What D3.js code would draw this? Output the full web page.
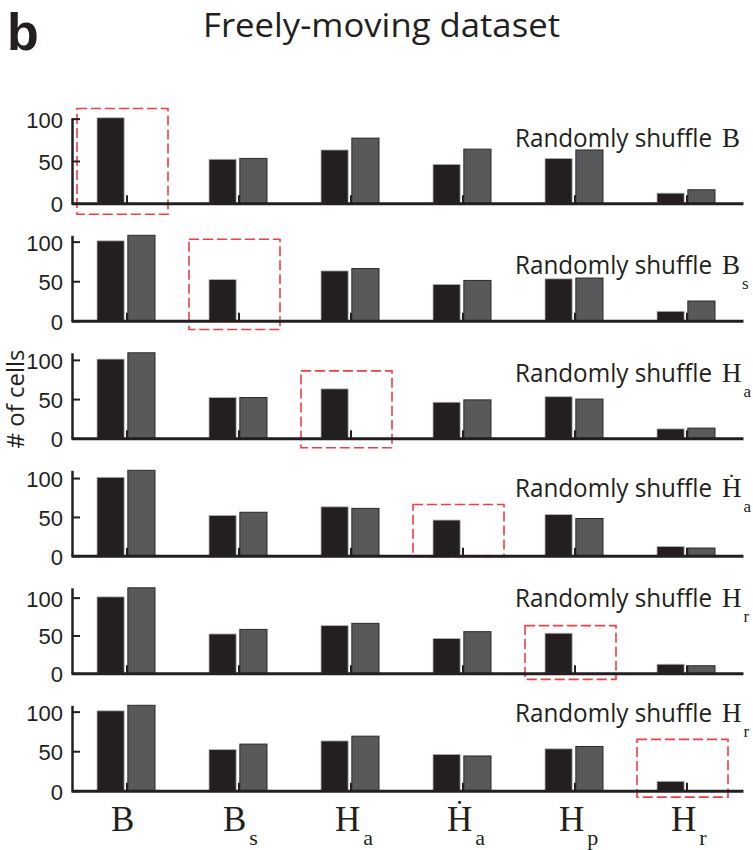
<!DOCTYPE html>
<html>
<head>
<meta charset="utf-8">
<script src="https://cdn.jsdelivr.net/npm/d3@7"></script>
<style>
  body { margin: 0; background: #fff; }
  svg { display: block; }
</style>
</head>
<body>
<div id="chart"></div>
<script>
// variables (x categories), one per bar group
var categories = ["B", "Bs", "Ha", "Ha_dot", "Hp", "Hr"];
var catMain = ["B", "B", "H", "H", "H", "H"];
var catSub = ["", "s", "a", "a", "p", "r"];
var catDot = [false, false, false, true, false, false];

// which variable got shuffled in each panel (panel label)
var panelMain = ["B", "B", "H", "H", "H", "H"];
var panelSub = ["", "s", "a", "a", "r", "r"];
var panelDot = [false, false, false, true, false, false];
var shuffledIndex = [0, 1, 2, 3, 4, 5];

// # of cells, full model (black bars) - same in every panel
var fullCounts = [101, 52, 63, 46, 53, 12];

// # of cells after shuffling (grey bars), null = the shuffled variable itself
var shuffleB   = [null, 53, 77, 64, 63, 16];
var shuffleBs  = [108, null, 66, 51, 54, 25];
var shuffleHa  = [109, 52, null, 49, 50, 13];
var shuffleHad = [110, 56, 61, null, 48, 10];
var shuffleHp  = [113, 58, 66, 55, null, 10];
var shuffleHr  = [108, 59, 69, 44, 56, null];
var shuffleCounts = [shuffleB, shuffleBs, shuffleHa, shuffleHad, shuffleHp, shuffleHr];

// dashed box extents, in # of cells (top, bottom)
var boxTop = [112, 103, 86, 66, 63, 65];
var boxBottom = [-13, -11, -12, -1, -8, -8];

var yTicks = [0, 50, 100];

var width = 753, height = 850;
var ink = "#231f20";
var sansFont = "'Open Sans', 'Noto Sans', sans-serif";
var serifFont = "'Liberation Serif', 'DejaVu Serif', serif";

var svg = d3.select("#chart").append("svg")
  .attr("width", width)
  .attr("height", height);

var x = d3.scaleBand().domain(categories).range([71, 743]).padding(0);
var xSub = d3.scaleBand().domain(["full", "shuffled"]).range([-30, 28]).paddingInner(0.12);

var panelBase0 = 203.3, panelStep = 117.5, panelHeight = 85.5;
var labelOffset = [56, 47, 56, 59, 66, 69];

// title + panel letter
svg.append("text")
  .attr("x", 7).attr("y", 50)
  .style("font-family", "'Liberation Sans', Arial, sans-serif")
  .style("font-weight", "bold")
  .style("font-size", "52px")
  .style("fill", ink)
  .text("b");

svg.append("text")
  .attr("x", 203).attr("y", 37)
  .attr("textLength", 357)
  .attr("lengthAdjust", "spacingAndGlyphs")
  .style("font-family", sansFont)
  .style("font-size", "33px")
  .style("fill", ink)
  .text("Freely-moving dataset");

// y label
svg.append("text")
  .attr("transform", "translate(24,399) rotate(-90)")
  .attr("text-anchor", "middle")
  .style("font-family", sansFont)
  .style("font-size", "24px")
  .style("fill", ink)
  .text("# of cells");

for (var p = 0; p < 6; p++) {
  drawPanel(p);
}

function drawPanel(p) {
  var base = panelBase0 + p * panelStep;
  var gray = shuffleCounts[p];
  var ymax = d3.max(fullCounts.concat(gray.filter(function(d){ return d !== null; })));
  var y = d3.scaleLinear().domain([0, ymax]).range([base, base - panelHeight]);

  var g = svg.append("g").attr("class", "panel");

  var rows = categories.map(function(c, i) {
    return {cat: c, full: fullCounts[i], shuffled: gray[i]};
  });

  // red dashed box round the shuffled variable
  var sc = categories[shuffledIndex[p]];
  var cx = x(sc) + x.bandwidth() / 2;
  g.append("rect")
    .attr("x", cx - 50)
    .attr("y", y(boxTop[p]))
    .attr("width", 91)
    .attr("height", y(boxBottom[p]) - y(boxTop[p]))
    .attr("fill", "none")
    .attr("stroke", "#ef3e46")
    .attr("stroke-width", 1.6)
    .attr("stroke-dasharray", "10,4");

  var grp = g.selectAll("g.grp")
    .data(rows)
    .enter().append("g")
      .attr("class", "grp")
      .attr("transform", function(d){ return "translate(" + (x(d.cat) + x.bandwidth() / 2) + ",0)"; });

  grp.append("rect")
    .attr("x", xSub("full"))
    .attr("width", xSub.bandwidth())
    .attr("y", function(d){ return y(d.full); })
    .attr("height", function(d){ return base - y(d.full); })
    .attr("fill", ink)
    .attr("stroke", "#b5b5b5")
    .attr("stroke-width", 0.8);

  grp.filter(function(d){ return d.shuffled !== null; })
    .append("rect")
      .attr("x", xSub("shuffled"))
      .attr("width", xSub.bandwidth())
      .attr("y", function(d){ return y(d.shuffled); })
      .attr("height", function(d){ return base - y(d.shuffled); })
      .attr("fill", "#58595b")
      .attr("stroke", "#2a2a2a")
      .attr("stroke-width", 1);

  // axes (ticks point inward, MATLAB style)
  var xAxis = d3.axisBottom(x).tickSizeInner(-8).tickSizeOuter(0).tickFormat("");
  var gx = g.append("g")
    .attr("transform", "translate(0," + base + ")")
    .call(xAxis);
  gx.select(".domain").attr("stroke", ink).attr("stroke-width", 3);
  gx.selectAll(".tick line").attr("stroke", ink).attr("stroke-width", 2);

  var yAxis = d3.axisLeft(y).tickValues(yTicks).tickSizeInner(-8).tickSizeOuter(0).tickPadding(9);
  var gy = g.append("g")
    .attr("transform", "translate(72,0)")
    .call(yAxis);
  gy.select(".domain").attr("stroke", ink).attr("stroke-width", 2.5);
  gy.selectAll(".tick line").attr("stroke", ink).attr("stroke-width", 2);
  gy.selectAll(".tick text")
    .attr("dy", "0.38em")
    .style("font-family", "'Liberation Sans', Arial, sans-serif")
    .style("font-size", "22px")
    .style("fill", ink);

  // panel label
  var ly = base - labelOffset[p];
  g.append("text")
    .attr("x", 515).attr("y", ly)
    .attr("textLength", 197)
    .attr("lengthAdjust", "spacingAndGlyphs")
    .style("font-family", sansFont)
    .style("font-size", "25px")
    .style("fill", ink)
    .text("Randomly shuffle");
  var lab = g.append("text")
    .attr("x", 722).attr("y", ly)
    .style("font-family", serifFont)
    .style("font-size", "27px")
    .style("fill", ink);
  lab.append("tspan").text(panelMain[p]);
  if (panelSub[p]) {
    lab.append("tspan")
      .attr("dx", 2).attr("dy", 15)
      .style("font-size", "17px")
      .text(panelSub[p]);
  }
  if (panelDot[p]) {
    g.append("text")
      .attr("x", 731.5).attr("y", ly - 7)
      .attr("text-anchor", "middle")
      .style("font-family", serifFont)
      .style("font-size", "24px")
      .style("fill", ink)
      .text("\u02D9");
  }

  // category labels under the last panel
  if (p === 5) {
    categories.forEach(function(c, i) {
      var cxx = x(c) + x.bandwidth() / 2;
      var t = g.append("text")
        .attr("x", cxx - 16).attr("y", 831)
        .style("font-family", serifFont)
        .style("font-size", "35px")
        .style("fill", ink);
      t.append("tspan").text(catMain[i]);
      if (catSub[i]) {
        t.append("tspan")
          .attr("dx", 3).attr("dy", 14)
          .style("font-size", "22px")
          .text(catSub[i]);
      }
      if (catDot[i]) {
        g.append("text")
          .attr("x", cxx - 3.5).attr("y", 821)
          .attr("text-anchor", "middle")
          .style("font-family", serifFont)
          .style("font-size", "30px")
          .style("fill", ink)
          .text("\u02D9");
      }
    });
  }
}
</script>
</body>
</html>
